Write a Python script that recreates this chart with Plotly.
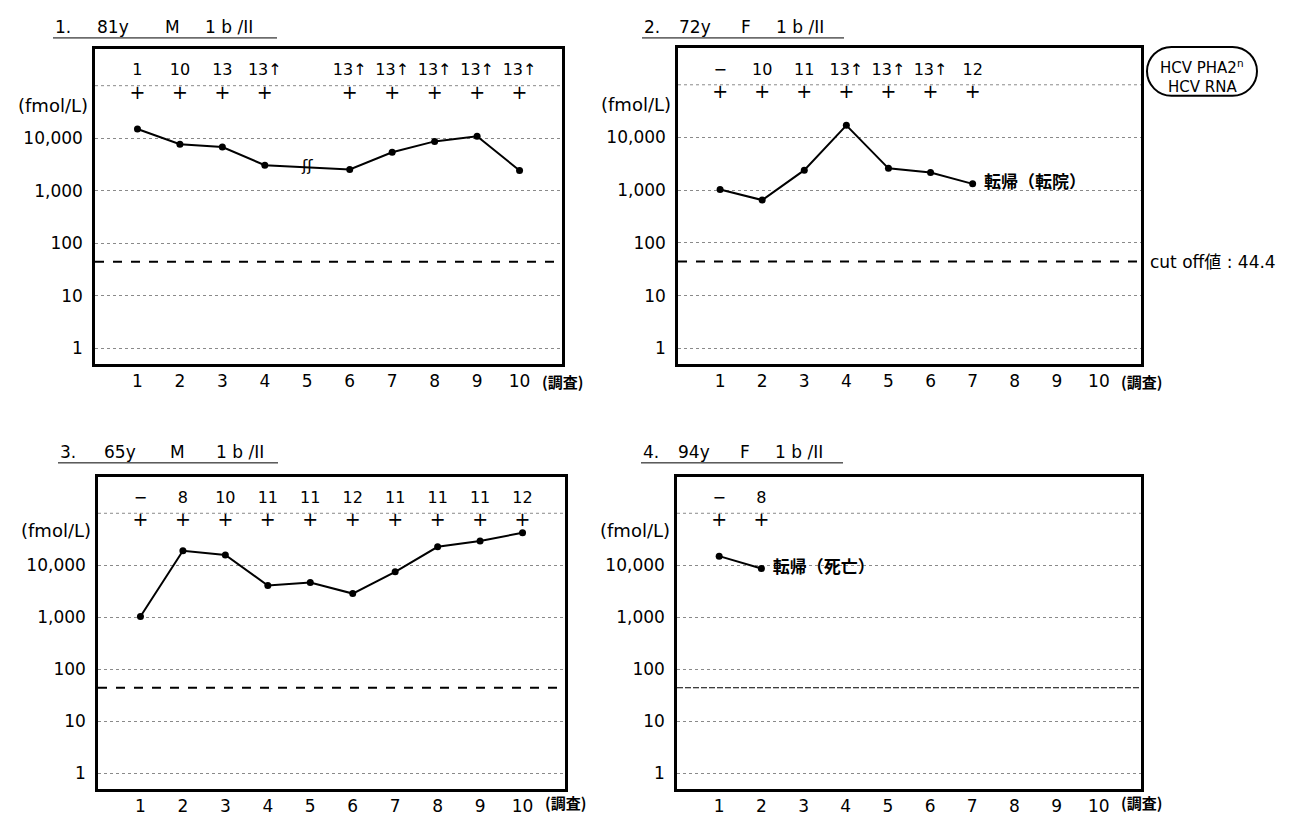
import plotly.graph_objects as go
import math

# ---------------- data ----------------
visits = [1, 2, 3, 4, 5, 6, 7, 8, 9, 10]
x_tick_labels = ["1", "2", "3", "4", "5", "6", "7", "8", "9", "10"]
y_tickvals = [1, 10, 100, 1000, 10000]
y_ticktext = ["1", "10", "100", "1,000", "10,000"]
top_grid = 100000
cutoff = 44.4

titles = ["1.|81y|M|1 b /II", "2.|72y|F|1 b /II",
          "3.|65y|M|1 b /II", "4.|94y|F|1 b /II"]

p1_vals = [15000, 7700, 6800, 3060, None, 2550, 5400, 8700, 10900, 2430]
p1_pha = ["1", "10", "13", "13↑", "", "13↑", "13↑", "13↑", "13↑", "13↑"]
p1_rna = ["+", "+", "+", "+", "", "+", "+", "+", "+", "+"]

p2_vals = [1030, 650, 2400, 17000, 2600, 2160, 1320]
p2_pha = ["−", "10", "11", "13↑", "13↑", "13↑", "12"]
p2_rna = ["+", "+", "+", "+", "+", "+", "+"]

p3_vals = [1040, 19000, 15800, 4100, 4650, 2860, 7500, 22700, 29400, 42200]
p3_pha = ["−", "8", "10", "11", "11", "12", "11", "11", "11", "12"]
p3_rna = ["+", "+", "+", "+", "+", "+", "+", "+", "+", "+"]

p4_vals = [15000, 8700]
p4_pha = ["−", "8"]
p4_rna = ["+", "+"]

outcome_labels = {2: "転帰（転院）", 4: "転帰（死亡）"}
legend_lines = ["HCV PHA2<sup>n</sup>", "HCV RNA"]
cutoff_label = "cut off値 : 44.4"
y_unit = "(fmol/L)"
x_unit = "(調査)"

# ---------------- layout helpers ----------------
OFF = 8                      # page body margin of the browser
W, H = 1295 - OFF, 816 - OFF
LAT = "DejaVu Sans, Noto Sans CJK JP"
CJK = "Noto Sans CJK JP"

def px_x(x):
    return (x - OFF) / W

def px_y(y):
    return 1 - (y - OFF) / H

# panel boxes in reference pixels: (left, right, top, bottom)
boxes = {
    1: (95, 562, 49, 365),
    2: (678, 1141, 48, 365),
    3: (98, 565, 478, 791),
    4: (677, 1141, 478, 791),
}
title_pos = {1: (53, 27), 2: (642, 27), 3: (58, 453), 4: (641, 453)}
title_offsets = {1: ([0, 42, 110, 150], 224), 3: ([0, 44, 110, 156], 220),
                 2: ([0, 35, 97, 132], 202), 4: ([0, 35, 97, 132], 202)}

panels = {
    1: (p1_vals, p1_pha, p1_rna),
    2: (p2_vals, p2_pha, p2_rna),
    3: (p3_vals, p3_pha, p3_rna),
    4: (p4_vals, p4_pha, p4_rna),
}

fig = go.Figure()
XR = [0, 11]
YR = [-0.3, 5.7]
pha_y = 10 ** 5.27
rna_y = 10 ** 4.84

annotations = []
shapes = []

for k in (1, 2, 3, 4):
    vals, pha, rna = panels[k]
    n = len(vals)
    xs = visits[:n]
    sfx = "" if k == 1 else str(k)
    xa, ya = "x" + sfx, "y" + sfx
    l, r, t, b = boxes[k]

    # dotted top gridline (unlabelled decade)
    fig.add_trace(go.Scatter(
        x=XR, y=[top_grid, top_grid], mode="lines",
        line=dict(color="#8a8a8a", width=1, dash="dot"),
        xaxis=xa, yaxis=ya, showlegend=False, hoverinfo="skip"))

    # cut-off line
    fig.add_trace(go.Scatter(
        x=XR, y=[cutoff, cutoff], mode="lines",
        line=dict(color="black", width=2 if k != 4 else 1.2,
                  dash="dash" if k != 4 else "6px,2px"),
        xaxis=xa, yaxis=ya, showlegend=False, hoverinfo="skip"))

    fig.add_trace(go.Scatter(
        x=xs, y=vals, mode="lines+markers", connectgaps=True,
        line=dict(color="black", width=2),
        marker=dict(color="black", size=7),
        xaxis=xa, yaxis=ya, showlegend=False, hoverinfo="skip"))

    # PHA titer row
    fig.add_trace(go.Scatter(
        x=[x for x, s in zip(xs, pha) if s], y=[pha_y] * sum(1 for s in pha if s),
        text=[s for s in pha if s], mode="text",
        textfont=dict(family=LAT, size=16, color="black"),
        xaxis=xa, yaxis=ya, showlegend=False, hoverinfo="skip"))
    # RNA row
    fig.add_trace(go.Scatter(
        x=[x for x, s in zip(xs, rna) if s], y=[rna_y] * sum(1 for s in rna if s),
        text=[s for s in rna if s], mode="text",
        textfont=dict(family=LAT, size=19, color="black"),
        xaxis=xa, yaxis=ya, showlegend=False, hoverinfo="skip"))

    if k in outcome_labels:
        fig.add_trace(go.Scatter(
            x=[xs[-1]], y=[vals[-1]], text=["   <b>" + outcome_labels[k] + "</b>"],
            mode="text", textposition="middle right",
            textfont=dict(family=CJK, size=17, color="black"),
            xaxis=xa, yaxis=ya, showlegend=False, hoverinfo="skip"))

    if k == 1:
        gap_y = math.sqrt(p1_vals[3] * p1_vals[5])
        fig.add_trace(go.Scatter(
            x=[5], y=[gap_y], text=["ʃʃ"], mode="text",
            textfont=dict(family="DejaVu Sans", size=16, color="black"),
            xaxis=xa, yaxis=ya, showlegend=False, hoverinfo="skip"))

    axx = dict(domain=[px_x(l), px_x(r)], range=XR, anchor=ya,
               tickvals=visits, ticktext=x_tick_labels, showgrid=False,
               zeroline=False, showline=True, linecolor="black", linewidth=2.5,
               mirror=True, ticks="", ticklabelstandoff=0,
               tickfont=dict(family=LAT, size=17, color="black"))
    axy = dict(domain=[px_y(b), px_y(t)], type="log", range=YR, anchor=xa,
               tickvals=y_tickvals, ticktext=y_ticktext, showgrid=True,
               gridcolor="#8a8a8a", griddash="dot", gridwidth=1,
               zeroline=False, showline=True, linecolor="black", linewidth=2.5,
               mirror=True, ticks="", ticklabelstandoff=6,
               tickfont=dict(family=LAT, size=17, color="black"))
    fig.update_layout(**{("xaxis" + sfx): axx, ("yaxis" + sfx): axy})

    # unit labels
    annotations.append(dict(x=px_x(l - 5), y=px_y(t + 57 if k in (1, 2) else t + 54),
                            xref="paper", yref="paper", xanchor="right", yanchor="middle",
                            text=y_unit, showarrow=False,
                            font=dict(family=LAT, size=18, color="black")))
    annotations.append(dict(x=px_x(r - 22), y=px_y(b + (17 if k in (1, 2) else 13)),
                            xref="paper", yref="paper", xanchor="left", yanchor="middle",
                            text="<b>" + x_unit + "</b>", showarrow=False,
                            font=dict(family=CJK, size=15, color="black")))
    # titles with underline
    tx, ty = title_pos[k]
    offs, uw = title_offsets[k]
    for piece, o in zip(titles[k - 1].split("|"), offs):
        annotations.append(dict(x=px_x(tx + o), y=px_y(ty), xref="paper", yref="paper",
                                xanchor="left", yanchor="middle", text=piece,
                                showarrow=False,
                                font=dict(family=LAT, size=17, color="black")))
    shapes.append(dict(type="line", xref="paper", yref="paper",
                       x0=px_x(tx), x1=px_x(tx + uw), y0=px_y(ty + 11), y1=px_y(ty + 11),
                       line=dict(color="black", width=1)))

# cut-off label on the right of panel 2
annotations.append(dict(x=px_x(1148), y=px_y(263), xref="paper", yref="paper",
                        xanchor="left", yanchor="middle", text=cutoff_label,
                        showarrow=False, font=dict(family=LAT, size=17, color="black")))

# rounded legend box
lx0, lx1, ly0, ly1 = 1147, 1257, 47, 96
rad = (ly1 - ly0) / 2

def P(x, y):
    return f"{px_x(x):.5f},{px_y(y):.5f}"

c = 0.5523 * rad
path = (f"M {P(lx0 + rad, ly0)} L {P(lx1 - rad, ly0)} "
        f"C {P(lx1 - rad + c, ly0)} {P(lx1, ly0 + rad - c)} {P(lx1, ly0 + rad)} "
        f"C {P(lx1, ly0 + rad + c)} {P(lx1 - rad + c, ly1)} {P(lx1 - rad, ly1)} "
        f"L {P(lx0 + rad, ly1)} "
        f"C {P(lx0 + rad - c, ly1)} {P(lx0, ly0 + rad + c)} {P(lx0, ly0 + rad)} "
        f"C {P(lx0, ly0 + rad - c)} {P(lx0 + rad - c, ly0)} {P(lx0 + rad, ly0)} Z")
shapes.append(dict(type="path", xref="paper", yref="paper", path=path,
                   line=dict(color="black", width=2)))
annotations.append(dict(x=px_x((lx0 + lx1) / 2), y=px_y(67), xref="paper", yref="paper",
                        xanchor="center", yanchor="middle",
                        text=legend_lines[0], showarrow=False,
                        font=dict(family=LAT, size=15, color="black")))
annotations.append(dict(x=px_x((lx0 + lx1) / 2), y=px_y(87), xref="paper", yref="paper",
                        xanchor="center", yanchor="middle",
                        text=legend_lines[1], showarrow=False,
                        font=dict(family=LAT, size=15, color="black")))

fig.update_layout(width=W, height=H, margin=dict(l=0, r=0, t=0, b=0),
                  paper_bgcolor="white", plot_bgcolor="white",
                  annotations=annotations, shapes=shapes, showlegend=False)

fig.write_html("out.html")
